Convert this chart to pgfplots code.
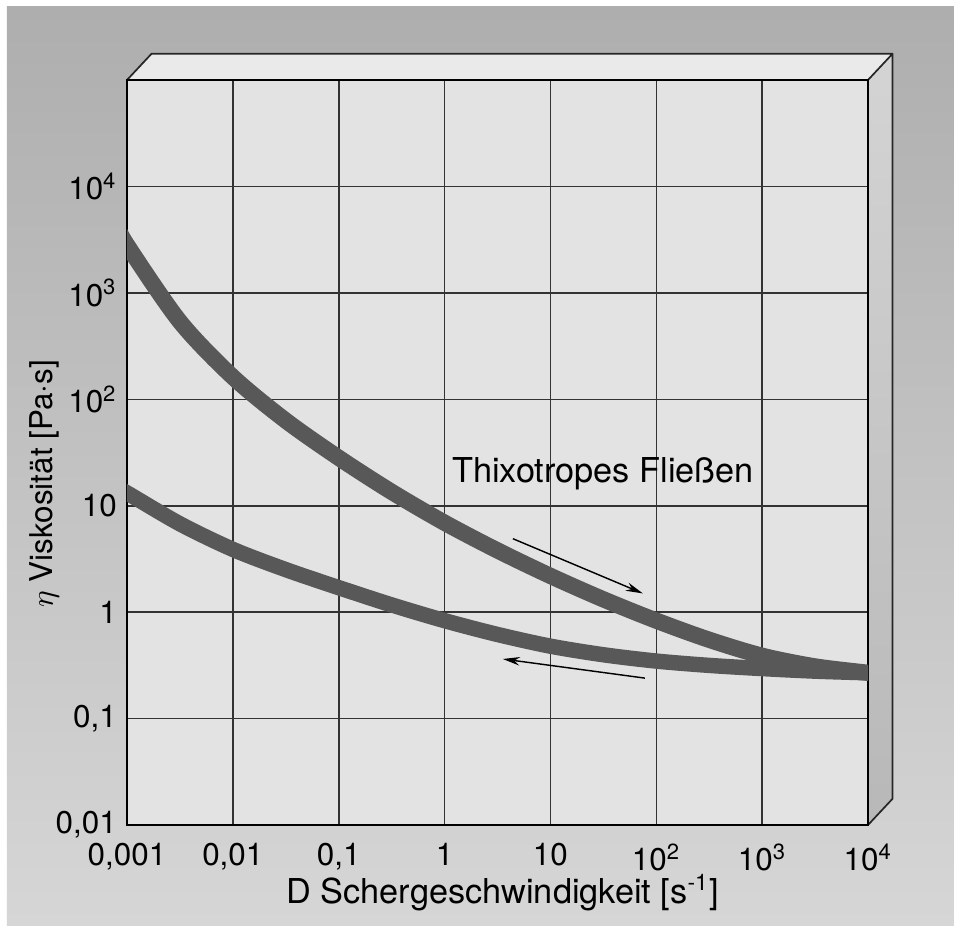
\documentclass[border=0pt]{standalone}
\usepackage{fontspec}
\setmainfont{TeX Gyre Heros}
\usepackage{pgfplots}
\pgfplotsset{compat=1.18}
\usetikzlibrary{arrows.meta}

\definecolor{bgtop}{RGB}{174,174,174}
\definecolor{bgbot}{RGB}{214,214,214}
\definecolor{panel}{RGB}{227,227,227}
\definecolor{topface}{RGB}{234,234,234}
\definecolor{sidetop}{RGB}{212,212,212}
\definecolor{sidebot}{RGB}{184,184,184}
\definecolor{band}{RGB}{88,88,88}

\begin{document}
\begin{tikzpicture}
% page background (thin white scan margin at top and left)
\fill[white] (-44.45pt,-35pt) rectangle (289.45pt,288.75pt);
\shade[top color=bgtop, bottom color=bgbot] (-42pt,-35pt) rectangle (289.45pt,286.3pt);
% 3d box: top and right faces
\fill[topface] (0pt,260.75pt) -- (8.6pt,269.95pt) -- (267.95pt,269.95pt) -- (259.35pt,260.75pt) -- cycle;
\shade[top color=sidetop, bottom color=sidebot] (259.35pt,0pt) -- (267.95pt,9.2pt) -- (267.95pt,269.95pt) -- (259.35pt,260.75pt) -- cycle;
\draw[line width=0.6pt, black!85, line join=round]
  (0pt,260.75pt) -- (8.6pt,269.95pt) -- (267.95pt,269.95pt) -- (259.35pt,260.75pt)
  (267.95pt,269.95pt) -- (267.95pt,9.2pt) -- (259.35pt,0pt);

\begin{axis}[
    at={(0pt,0pt)}, anchor=south west,
    scale only axis,
    width=259.35pt, height=260.75pt,
    xmode=log, ymode=log,
    xmin=0.001, xmax=10000,
    ymin=0.01, ymax=100000,
    axis background/.style={fill=panel},
    xtick={0.001,0.01,0.1,1,10,100,1000,10000},
    xticklabels={{0,001},{0,01},{0,1},1,10,10\textsuperscript{2},10\textsuperscript{3},10\textsuperscript{4}},
    ytick={0.01,0.1,1,10,100,1000,10000},
    yticklabels={{0,01},{0,1},1,10,10\textsuperscript{2},10\textsuperscript{3},10\textsuperscript{4}},
    grid=major,
    major grid style={black!80, line width=0.55pt},
    major tick length=0pt, minor tick length=0pt,
    axis line style={line width=1pt},
    tick label style={font=\fontsize{11}{13}\selectfont},
    xticklabel style={yshift=-3pt},
    xlabel={D Schergeschwindigkeit [s\textsuperscript{-1}]},
    ylabel={$\eta$ Viskosität [Pa·s]},
    xlabel style={font=\fontsize{12}{14}\selectfont, at={(axis description cs:0.507,-0.091)}, anchor=center},
    ylabel style={font=\fontsize{11}{13}\selectfont, at={(axis description cs:-0.111,0.458)}, anchor=center},
]

% --- upper band (increasing shear); first and last points lie just outside the frame ---
\addplot[band, line width=5.7pt, smooth, line cap=butt] coordinates {
    (0.0008,4300) (0.001,2818) (0.00316,537) (0.01,162) (0.0316,63.1)
    (0.1,28.2) (0.316,13.5) (1,6.92) (3.16,3.80) (10,2.19)
    (31.6,1.32) (100,0.832) (316,0.550) (1000,0.389) (3162,0.309) (10000,0.269)
    (12000,0.262)
};

% --- lower band (decreasing shear) ---
\addplot[band, line width=5.4pt, smooth, line cap=butt] coordinates {
    (0.0008,14.8) (0.001,13.2) (0.00316,6.76) (0.01,3.89) (0.0316,2.51) (0.1,1.70)
    (0.316,1.17) (1,0.832) (3.16,0.617) (10,0.479) (31.6,0.398)
    (100,0.347) (316,0.316) (1000,0.295) (3162,0.279) (10000,0.269)
    (12000,0.267)
};

% --- arrows and label ---
\draw[-{Stealth[length=6pt,width=3pt]}, line width=0.5pt] (axis cs:4.42,4.9) -- (axis cs:74.6,1.5);
\draw[-{Stealth[length=6pt,width=3pt]}, line width=0.5pt] (axis cs:78,0.24) -- (axis cs:3.55,0.363);
\node[anchor=base west, inner sep=0pt, font=\fontsize{12}{14}\selectfont] at (axis cs:1.17,16.7) {Thixotropes Fließen};

\end{axis}
\pgfresetboundingbox
\path (-44.45pt,-35pt) rectangle (289.45pt,288.75pt);
\end{tikzpicture}
\end{document}
